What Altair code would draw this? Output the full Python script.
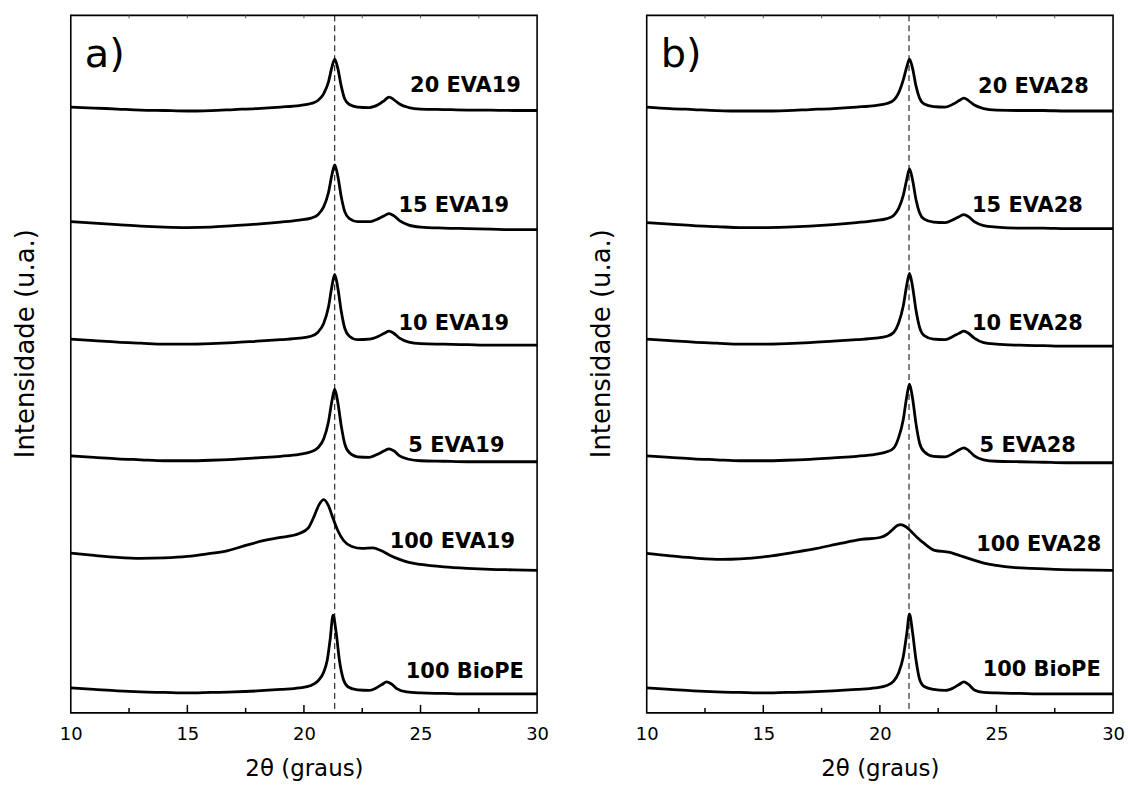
import altair as alt
import pandas as pd

# ---------------- data (arbitrary intensity units) -------------
X_A = [10, 11, 12, 13, 14, 15, 16, 17, 18, 19, 19.8, 20.3, 20.6, 20.85, 21.05, 21.2, 21.32,
       21.45, 21.6, 21.75, 21.95, 22.3, 22.8, 23.2, 23.45, 23.65, 23.85, 24.1, 24.5,
       25, 26, 27, 28, 29, 30]
EVA19_20 = [609, 608, 607, 606, 605.5, 605, 605.5, 606.5, 607.5, 609, 610.5, 612.5, 615.5,
            622.5, 634, 649, 657, 648, 630, 617, 611.5, 609, 608.5, 611.5, 615.5, 619, 616.5,
            612, 608.5, 607, 606.5, 606, 606, 605.5, 605.5]
EVA19_15 = [494, 492.5, 491, 489.5, 488.5, 488, 488.5, 490, 491.5, 493.5, 495.5, 497.5, 501,
            509, 523, 541, 551, 540, 519, 504, 497, 494, 494, 497, 500, 502, 500, 495, 490.5,
            488.5, 487.5, 487, 486.5, 486, 486]
EVA19_10 = [376, 374.5, 373, 372, 371, 371, 371.5, 372.5, 374, 375.5, 377, 379, 383, 392, 408,
            429, 441, 428, 404, 387, 379, 375.5, 376, 379, 382, 384, 382, 377, 373, 371.5, 371,
            370.5, 370, 370, 370]
EVA19_5 = [259, 257.5, 256, 255, 254, 254, 254.5, 255.5, 257, 258.5, 260.5, 263, 267, 276,
           293, 314, 326, 313, 289, 271, 262, 258, 257.5, 261, 264, 266, 264, 259, 255.5, 254,
           253.5, 253, 253, 253, 253]
X_EVA19 = [10, 11, 12, 13, 14, 15, 16, 16.6, 17.5, 18.3, 19, 19.8, 20.2, 20.45, 20.65, 20.85,
           21.05, 21.25, 21.45, 21.7, 22.05, 22.5, 22.95, 23.3, 23.7, 24.1, 24.5, 25, 26, 27,
           28, 29, 30]
EVA19_100 = [161.3, 159, 157, 156, 156.5, 158, 161, 163, 169, 174, 177, 181, 187, 199, 210,
             215, 209, 196, 184, 174, 168, 166, 166.5, 164, 159, 155, 152, 150, 147.5, 146,
             145, 144.5, 144]
X_PE_A = [10, 11, 12, 13, 14, 15, 16, 17, 18, 19, 19.8, 20.3, 20.6, 20.85, 21.0, 21.12, 21.25,
          21.38, 21.52, 21.7, 21.9, 22.3, 22.8, 23.1, 23.35, 23.55, 23.75, 24.0, 24.4,
          25, 26, 27, 28, 29, 30]
BIOPE_A = [26, 24.5, 23, 22, 21.5, 21, 21.5, 22, 23, 24.5, 26, 28.5, 33, 42, 54, 74, 99, 82,
           54, 34, 27, 24, 23.5, 26, 29.5, 32, 30, 25, 22, 21, 20.5, 20, 20, 20, 20]

X_B = [10, 11, 12, 13, 14, 15, 16, 17, 18, 19, 19.8, 20.3, 20.6, 20.8, 21.0, 21.15, 21.27,
       21.4, 21.55, 21.7, 21.9, 22.3, 22.8, 23.15, 23.4, 23.6, 23.8, 24.05, 24.45,
       25, 26, 27, 28, 29, 30]
EVA28_20 = [609, 607.5, 606.5, 605.5, 605, 605, 605.5, 606.5, 607.5, 609, 610.5, 612.5, 616,
            623, 636, 649, 657, 648, 630, 618, 612, 609.5, 609, 612, 615.5, 618, 615.5, 611,
            607.5, 606, 605.5, 605.5, 605, 605, 605]
EVA28_15 = [493, 491.5, 490, 489, 488, 488, 488.5, 489.5, 491, 493, 495, 497, 500.5, 507, 520,
            536, 547, 536, 516, 503, 496.5, 493.5, 493, 496, 499, 501, 499, 494, 490, 488.5,
            487.5, 487.5, 487, 487, 487]
EVA28_10 = [376, 374.5, 373, 372, 371, 371, 371.5, 372.5, 374, 375.5, 377, 379, 383, 392, 409,
            430, 442, 429, 405, 388, 379.5, 376, 375.5, 379, 382, 384, 382, 377, 372.5, 371,
            370, 369.5, 369, 369, 369]
EVA28_5 = [259, 257.5, 256, 255, 254, 254, 254.5, 255.5, 257, 258.5, 260.5, 263, 267, 277,
           295, 318, 331, 317, 291, 272, 263, 258.5, 258, 261.5, 265, 267, 264.5, 259, 255,
           253.5, 253, 252.5, 252, 252, 252]
BIOPE_B = [26, 24.5, 23, 22, 21.5, 21, 21.5, 22, 23, 24.5, 26, 28.5, 33, 41, 57, 80, 100, 82,
           54, 35, 27.5, 24.5, 23.5, 26, 29.5, 32, 29.5, 24, 21.5, 21, 20.5, 20, 20, 20, 20]
X_EVA28 = [10, 11, 12, 13.2, 14, 15.2, 16.3, 17.3, 18.3, 19.2, 20.0, 20.3, 20.55, 20.75, 20.9,
           21.1, 21.3, 21.6, 21.9, 22.35, 23.0, 23.4, 24.0, 24.5, 25, 25.7, 26.5, 27.5, 28.5,
           30]
EVA28_100 = [161, 158.5, 156.5, 155, 155.5, 158, 162, 166, 171, 175, 177, 180, 185, 189, 190,
             188, 184, 177, 171, 164, 162, 159, 154.5, 151, 149, 147, 146, 145, 144.5, 144]

LABELS_A = ["20 EVA19", "15 EVA19", "10 EVA19", "5 EVA19", "100 EVA19", "100 BioPE"]
LABEL_X_A = [29.3, 28.8, 28.8, 28.6, 29.05, 29.43]
LABEL_Y_A = [630, 510, 391, 269, 172, 42]
LABELS_B = ["20 EVA28", "15 EVA28", "10 EVA28", "5 EVA28", "100 EVA28", "100 BioPE"]
LABEL_X_B = [28.96, 28.7, 28.7, 28.4, 29.5, 29.47]
LABEL_Y_B = [629, 510, 391, 269, 169, 44]

PANEL_LETTERS = ["a)", "b)"]
DASH_X = [21.32, 21.25]
TICK_LABELS = [10, 15, 20, 25, 30]
TICKS_MAJOR = [15, 20, 25]
TICKS_MINOR = [12.5, 17.5, 22.5, 27.5]
X_DOMAIN = [10, 30]
Y_DOMAIN = [1, 701]

W, H = 468, 700
FONT = "DejaVu Sans"


def curves_df(series):
    rows = []
    for name, xs, ys in series:
        for x, y in zip(xs, ys):
            rows.append({"sample": name, "x": x, "I": y})
    return pd.DataFrame(rows)


xscale = alt.Scale(domain=X_DOMAIN, nice=False)
yscale = alt.Scale(domain=Y_DOMAIN, nice=False, zero=False)


def panel(series, labels, lx, ly, letter, dash_x):
    df = curves_df(series)
    lines = alt.Chart(df).mark_line(
        color="black", strokeWidth=2.8, interpolate="monotone"
    ).encode(
        x=alt.X("x:Q", scale=xscale,
                axis=alt.Axis(title="2θ (graus)", values=TICK_LABELS, ticks=False,
                              domain=False, grid=False, labelFontSize=18, labelFont=FONT,
                              labelColor="black", labelPadding=13, labelFlush=False,
                              titleFont=FONT, titleFontSize=23, titleFontWeight="normal",
                              titleColor="black", titlePadding=14)),
        y=alt.Y("I:Q", scale=yscale,
                axis=alt.Axis(title="Intensidade (u.a.)", labels=False, ticks=False,
                              domain=False, grid=False, titleFont=FONT, titleFontSize=26,
                              titleFontWeight="normal", titleColor="black",
                              titleX=-45, titleY=329, titleAngle=270,
                              titleAlign="center", titleBaseline="middle")),
        detail="sample:N",
    )
    dash = alt.Chart(pd.DataFrame({"x": [dash_x]})).mark_rule(
        color="black", strokeWidth=1, strokeDash=[6, 4]
    ).encode(x=alt.X("x:Q", scale=xscale))
    lab = alt.Chart(pd.DataFrame({"t": labels, "x": lx, "y": ly})).mark_text(
        align="right", baseline="middle", font=FONT, fontSize=21, fontWeight="bold",
        color="black"
    ).encode(x=alt.X("x:Q", scale=xscale), y=alt.Y("y:Q", scale=yscale), text="t:N")
    let = alt.Chart(pd.DataFrame({"t": [letter], "x": [10.6], "y": [649]})).mark_text(
        align="left", baseline="alphabetic", font=FONT, fontSize=40, color="black"
    ).encode(x=alt.X("x:Q", scale=xscale), y=alt.Y("y:Q", scale=yscale), text="t:N")
    tmaj = alt.Chart(pd.DataFrame({"x": TICKS_MAJOR})).mark_rule(
        color="black", strokeWidth=1.5
    ).encode(x=alt.X("x:Q", scale=xscale), y=alt.value(H), y2=alt.value(H - 8))
    tmin = alt.Chart(pd.DataFrame({"x": TICKS_MINOR})).mark_rule(
        color="black", strokeWidth=1.5
    ).encode(x=alt.X("x:Q", scale=xscale), y=alt.value(H), y2=alt.value(H - 5))
    ttop = alt.Chart(pd.DataFrame({"x": TICKS_MAJOR + TICKS_MINOR})).mark_rule(
        color="#555555", strokeWidth=1
    ).encode(x=alt.X("x:Q", scale=xscale), y=alt.value(0), y2=alt.value(3))
    return alt.layer(lines, dash, lab, let, tmaj, tmin, ttop).properties(width=W, height=H)


pa = panel(
    [("100 BioPE", X_PE_A, BIOPE_A), ("100 EVA19", X_EVA19, EVA19_100),
     ("5 EVA19", X_A, EVA19_5), ("10 EVA19", X_A, EVA19_10),
     ("15 EVA19", X_A, EVA19_15), ("20 EVA19", X_A, EVA19_20)],
    LABELS_A, LABEL_X_A, LABEL_Y_A, PANEL_LETTERS[0], DASH_X[0])
pb = panel(
    [("100 BioPE", X_B, BIOPE_B), ("100 EVA28", X_EVA28, EVA28_100),
     ("5 EVA28", X_B, EVA28_5), ("10 EVA28", X_B, EVA28_10),
     ("15 EVA28", X_B, EVA28_15), ("20 EVA28", X_B, EVA28_20)],
    LABELS_B, LABEL_X_B, LABEL_Y_B, PANEL_LETTERS[1], DASH_X[1])

chart = alt.hconcat(pa, pb, spacing=38).properties(
    padding={"left": 4, "top": 4, "right": 0, "bottom": 0},
    background="white",
).configure_view(stroke="black", strokeWidth=1.6)

chart.save("out.html", embed_options={"renderer": "svg", "actions": False})
